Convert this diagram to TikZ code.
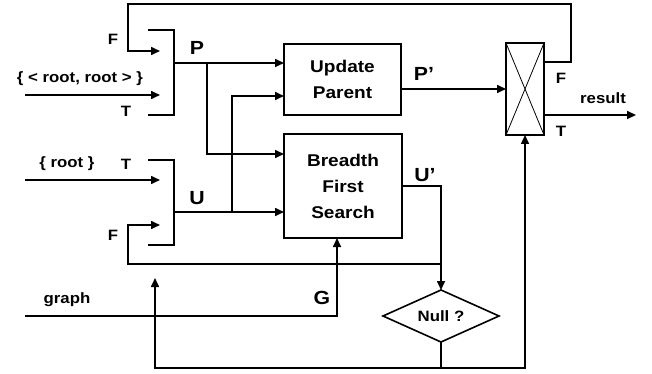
\documentclass[tikz,border=0pt]{standalone}
\usepackage{fontspec}
\setmainfont{Liberation Sans}[FakeStretch=1.12]
\usetikzlibrary{arrows.meta}
\usetikzlibrary{shapes.geometric}

\tikzset{
  >={Triangle[length=9pt,width=8pt]},
  wire/.style={line width=1.6pt},
  blk/.style={draw,line width=1.6pt,outer sep=0pt,inner sep=0pt,align=center,
    font=\bfseries\fontsize{17}{26}\selectfont},
  lbl/.style={inner sep=0pt,font=\bfseries\fontsize{15}{16}\selectfont},
  big/.style={inner sep=0pt,font=\bfseries\fontsize{19}{20}\selectfont},
}

\begin{document}
\begin{tikzpicture}[x=1pt,y=-1pt]
\useasboundingbox (0,0) rectangle (652,374);

\node[blk,minimum width=117pt,minimum height=71pt] (upd) at (342.5,79.5) {Update\\Parent};
\node[blk,minimum width=118pt,minimum height=104pt] (bfs) at (343,186) {Breadth\\First\\Search};
\node[blk,minimum width=38pt,minimum height=92pt] (sel) at (525,89) {};
\draw[line width=0.8pt] (sel.north west) -- (sel.south east) (sel.north east) -- (sel.south west);
\node[blk,diamond,aspect=2.23,minimum width=116pt,minimum height=52pt,
  font=\bfseries\fontsize{15}{16}\selectfont] (null) at (441,316) {Null ?};

\coordinate (pmT) at (148,30);
\coordinate (pm) at (174,63);
\coordinate (pmB) at (148,115);
\coordinate (pmF) at (160,51);
\coordinate (pmIn) at (160,95);
\coordinate (pb) at (207,63);
\coordinate (umT) at (148,160);
\coordinate (um) at (174,212);
\coordinate (umB) at (148,245);
\coordinate (umF) at (160,225);
\coordinate (umIn) at (160,180);
\coordinate (ub) at (232,212);
\coordinate (in1) at (25,95);
\coordinate (in2) at (25,180);
\coordinate (gin) at (25,316);
\coordinate (selF) at (544,62);
\coordinate (selT) at (544,115);
\coordinate (res) at (636,115);
\coordinate (topR) at (571,4);
\coordinate (topL) at (128,4);
\coordinate (uJ) at (441,264);
\coordinate (uL) at (128,264);
\coordinate (nb) at (441,368);
\coordinate (uTip) at (155,278);

\draw[wire] (pmT) -| (pm) |- (pmB);
\draw[wire] (umT) -| (um) |- (umB);

\draw[wire,->] (in1) -- (pmIn);
\draw[wire,->] (in2) -- (umIn);
\draw[wire,->] (selF) -| (topR) -- (topL) |- (pmF);
\draw[wire,->] (uJ) -- (uL) |- (umF);
\draw[wire,->] (pm) -- (pm -| upd.west);
\draw[wire,->] (pb) |- ([yshift=32pt]bfs.west);
\draw[wire,->] (um) -- (um -| bfs.west);
\draw[wire,->] (ub) |- ([yshift=-16.5pt]upd.west);
\draw[wire,->] (upd.east |- sel.west) -- (sel.west);
\draw[wire,->] (selT) -- (res);
\draw[wire,->] (bfs.east) -| (null.north);
\draw[wire,->] (gin) -| ([xshift=-6pt]bfs.south);
\draw[wire] (null.south) -- (nb);
\draw[wire,->] (nb) -| (sel.south);
\draw[wire,->] (nb) -| (uTip);

\node[lbl] (lF1) at (113,39) {F};
\node[lbl] (lT1) at (126,111) {T};
\node[lbl] (lT2) at (126,164) {T};
\node[lbl] (lF2) at (113,235) {F};
\node[lbl] (lrr) at (80,79) {\{ < root, root > \}};
\node[lbl] (lr) at (67,164) {\{ root \}};
\node[lbl] (lgr) at (67,300) {graph};
\node[big] (lP) at (197,48) {P};
\node[big] (lU) at (197,198) {U};
\node[big] (lPp) at (424,74) {P’};
\node[big] (lUp) at (425,175) {U’};
\node[big] (lG) at (322,298) {G};
\node[lbl] (lF3) at (561,78) {F};
\node[lbl] (lT3) at (561,131) {T};
\node[lbl] (lres) at (603,98) {result};
\end{tikzpicture}
\end{document}
